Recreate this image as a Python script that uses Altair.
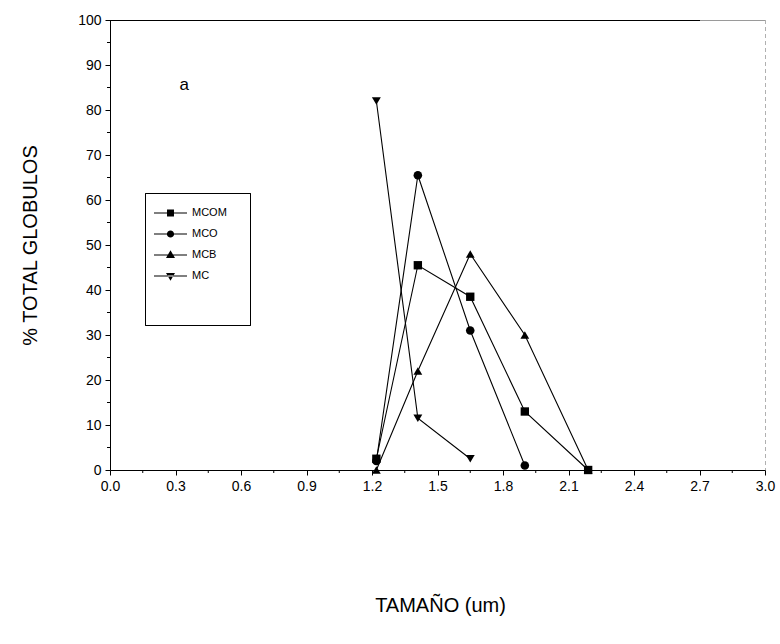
import altair as alt
import pandas as pd

# ---- data ----
sizes = [1.22, 1.41, 1.65, 1.90, 2.19]
series_names = ["MCOM", "MCO", "MCB", "MC"]
mcom = [2.5, 45.5, 38.5, 13.0, 0.0]
mco = [2.0, 65.5, 31.0, 1.0]
mcb = [0.0, 22.0, 48.0, 30.0, 0.0]
mc = [82.0, 11.5, 2.5]

x_ticks = [0.0, 0.3, 0.6, 0.9, 1.2, 1.5, 1.8, 2.1, 2.4, 2.7, 3.0]
x_minor = [0.15, 0.45, 0.75, 1.05, 1.35, 1.65, 1.95, 2.25, 2.55, 2.85]
y_ticks = [0, 10, 20, 30, 40, 50, 60, 70, 80, 90, 100]
y_minor = [5, 15, 25, 35, 45, 55, 65, 75, 85, 95]

ann_x = [0.34]
ann_y = [85.5]
ann_text = ["a"]

rows = []
for name, vals in zip(series_names, [mcom, mco, mcb, mc]):
    for i, v in enumerate(vals):
        rows.append({"series": name, "size": sizes[i], "pct": v, "order": i})
df = pd.DataFrame(rows)

W, H = 655, 450
FONT = "Liberation Sans"

xscale = alt.Scale(domain=[0, 3], nice=False, zero=False)
yscale = alt.Scale(domain=[0, 100], nice=False)

x_enc = alt.X("size:Q", scale=xscale,
              axis=alt.Axis(values=x_ticks, format=".1f", title="TAMAÑO (um)",
                            labelFlush=False, labelOverlap=False,
                            titleX=330, titleY=135, titleBaseline="middle"))
y_enc = alt.Y("pct:Q", scale=yscale,
              axis=alt.Axis(values=y_ticks, format="d", title="% TOTAL GLOBULOS",
                            labelFlush=False, labelOverlap=False,
                            titleX=-80, titleY=225, titleAngle=270,
                            titleAlign="center", titleBaseline="middle"))

base = alt.Chart(df)

lines = base.mark_line(color="black", strokeWidth=1.1).encode(
    x=x_enc, y=y_enc, detail="series:N", order="order:Q")

points = base.mark_point(filled=True, color="black", opacity=1).encode(
    x="size:Q", y="pct:Q",
    shape=alt.Shape("series:N",
                    scale=alt.Scale(domain=series_names,
                                    range=["square", "circle", "triangle-up", "triangle-down"]),
                    legend=None),
    size=alt.Size("series:N",
                  scale=alt.Scale(domain=series_names, range=[70, 80, 100, 100]),
                  legend=None))

# legend symbols: a 1px line with the marker in the middle (all filled)
LINE = "M-1,-0.09H4.5V0.09H-1Z"
legend_paths = [
    LINE + "M1.17,-0.58H2.33V0.58H1.17Z",
    LINE + "M1.15,0A0.6,0.6,0,1,1,2.35,0A0.6,0.6,0,1,1,1.15,0Z",
    LINE + "M1.75,-0.8L2.5,0.5L1.0,0.5Z",
    LINE + "M1.75,0.8L2.5,-0.5L1.0,-0.5Z",
]

legend_layer = base.mark_point(filled=True, color="black", opacity=0).encode(
    x="size:Q", y="pct:Q",
    shape=alt.Shape("series:N",
                    scale=alt.Scale(domain=series_names, range=legend_paths),
                    legend=alt.Legend(title=None, orient="none", legendX=44, legendY=187,
                                      padding=0,
                                      labelFont=FONT, labelFontSize=11, labelColor="black",
                                      symbolSize=144, labelOffset=26, rowPadding=10,
                                      symbolOpacity=1, symbolFillColor="black",
                                      symbolStrokeWidth=0)))

xminor_df = pd.DataFrame({"v": x_minor})
yminor_df = pd.DataFrame({"v": y_minor})

xminor = alt.Chart(xminor_df).mark_rule(color="black", strokeWidth=1).encode(
    x=alt.X("v:Q", scale=xscale), y=alt.value(H), y2=alt.value(H + 3))
yminor = alt.Chart(yminor_df).mark_rule(color="black", strokeWidth=1).encode(
    y=alt.Y("v:Q", scale=yscale), x=alt.value(0), x2=alt.value(-3))

top_border = alt.Chart(xminor_df).mark_rule(color="black", strokeWidth=1).encode(
    x=alt.value(0), x2=alt.value(590), y=alt.value(0.5))
top_border2 = alt.Chart(xminor_df).mark_rule(color="#9a9a9a", strokeWidth=1).encode(
    x=alt.value(590), x2=alt.value(W), y=alt.value(0.5))
right_border = alt.Chart(xminor_df).mark_rule(color="#b0b0b0", strokeWidth=1,
                                              strokeDash=[4, 3]).encode(
    x=alt.value(W + 0.5), y=alt.value(0), y2=alt.value(H))

legend_box = alt.Chart(xminor_df).mark_rect(fill="white", stroke="black",
                                            strokeWidth=1).encode(
    x=alt.value(35.5), x2=alt.value(140.5), y=alt.value(173.5), y2=alt.value(305.5))

ann_df = pd.DataFrame({"x": ann_x, "y": ann_y, "t": ann_text})
ann = alt.Chart(ann_df).mark_text(font=FONT, fontSize=17, color="black").encode(
    x=alt.X("x:Q", scale=xscale), y=alt.Y("y:Q", scale=yscale), text="t:N")

chart = alt.layer(legend_box, lines, points, legend_layer, xminor, yminor, top_border,
                  top_border2, right_border, ann).resolve_scale(
    shape="independent", size="independent").properties(
    width=W, height=H,
    autosize=alt.AutoSizeParams(type="none"),
    padding={"left": 110, "top": 20, "right": 15, "bottom": 174},
    background="white",
).configure_view(stroke=None).configure_axis(
    grid=False, domainColor="black", tickColor="black", labelColor="black",
    titleColor="black", labelFont=FONT, labelFontSize=14, titleFont=FONT,
    titleFontSize=20, titleFontWeight="normal", tickSize=5, labelPadding=4,
    domainWidth=1, tickWidth=1)

chart.save("out.html", embed_options={"renderer": "svg", "actions": False})
